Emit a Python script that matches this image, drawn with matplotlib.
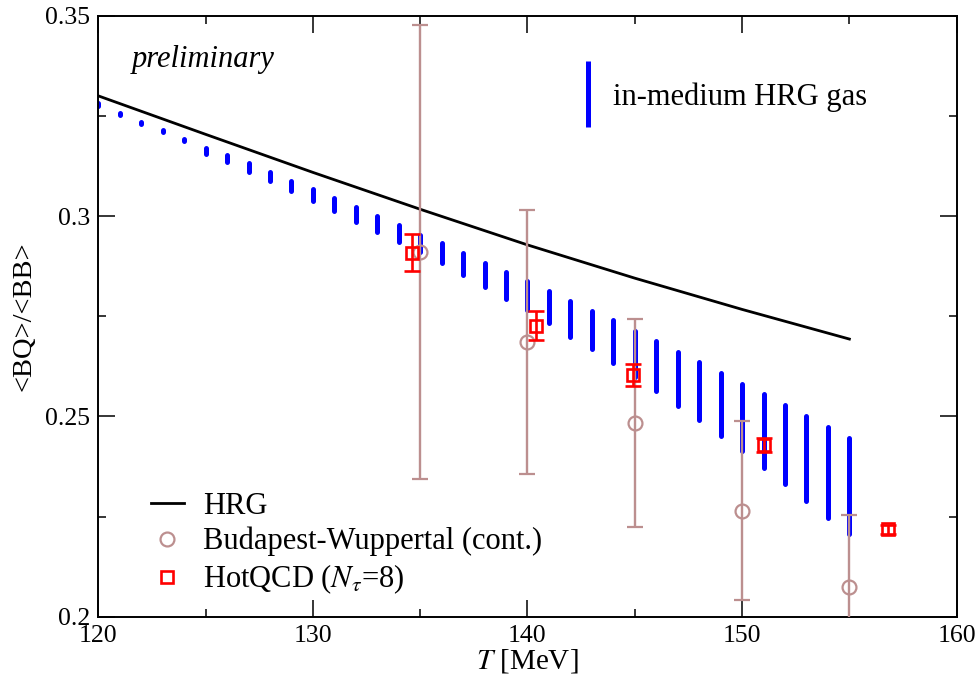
import numpy as np
import matplotlib
matplotlib.use("Agg")
import matplotlib.pyplot as plt
from matplotlib.lines import Line2D

plt.rcParams['font.family'] = ['Liberation Serif', 'DejaVu Serif']
plt.rcParams['mathtext.fontset'] = 'stix'

# in-medium HRG band: lower / upper end at each temperature
T_band = np.arange(120, 156)
band_lo = [0.3275, 0.3253, 0.3231, 0.3209, 0.3187, 0.3154, 0.3134, 0.3109, 0.3088, 0.3062,
           0.3038, 0.3013, 0.2986, 0.2961, 0.2934, 0.2911, 0.2882, 0.2853, 0.2823, 0.2793,
           0.2765, 0.2733, 0.2698, 0.2667, 0.2633, 0.2598, 0.2563, 0.2526, 0.2490, 0.2451,
           0.2413, 0.2372, 0.2332, 0.2290, 0.2247, 0.2207]
band_hi = [0.3281, 0.3258, 0.3236, 0.3214, 0.3192, 0.3170, 0.3152, 0.3132, 0.3109, 0.3088,
           0.3067, 0.3044, 0.3022, 0.3000, 0.2978, 0.2953, 0.2932, 0.2908, 0.2883, 0.2861,
           0.2838, 0.2813, 0.2788, 0.2763, 0.2740, 0.2714, 0.2688, 0.2661, 0.2636, 0.2609,
           0.2582, 0.2555, 0.2528, 0.2501, 0.2473, 0.2446]

# HRG curve
T_hrg = [120, 125, 130, 135, 140, 145, 150, 155]
hrg = [0.3300, 0.3204, 0.3109, 0.3017, 0.2928, 0.2845, 0.2767, 0.2693]

# Budapest-Wuppertal (continuum)
T_bw = [135, 140, 145, 150, 155]
bw = [0.2910, 0.2685, 0.2483, 0.2265, 0.2073]
bw_err = [0.0567, 0.0330, 0.0260, 0.0223, 0.0182]

# HotQCD Ntau=8
T_hq = [134.6, 140.4, 144.9, 151.0, 156.8]
hq = [0.2908, 0.2726, 0.2603, 0.2429, 0.2218]
hq_err = [0.0046, 0.0036, 0.0028, 0.0017, 0.0012]

fig = plt.figure(figsize=(9.76, 6.78), dpi=100)
ax = fig.add_axes([0.1007, 0.0904, 0.8795, 0.8864])

bars = ax.vlines(T_band, band_lo, band_hi, color='blue', lw=3.6, zorder=2)
bars.set_capstyle('round')

ax.plot(T_hrg, hrg, color='black', lw=2.0, zorder=3)

ax.errorbar(T_bw, bw, yerr=bw_err, fmt='o', ms=10, mfc='none', mec='#bc8f8f', mew=1.6,
            ecolor='#bc8f8f', elinewidth=1.7, capsize=5.8, capthick=1.7, zorder=4)
ax.errorbar(T_hq, hq, yerr=hq_err, fmt='s', ms=8, mfc='none', mec='red', mew=1.9,
            ecolor='red', elinewidth=1.9, capsize=6.0, capthick=1.9, zorder=5)

ax.text(121.57, 0.339, 'preliminary', fontsize=22, style='italic', ha='left', va='center')

ax.set_xlim(120, 160)
ax.set_ylim(0.2, 0.35)
ax.set_xticks([120, 130, 140, 150, 160])
ax.set_xticks(np.arange(125, 160, 10), minor=True)
ax.set_yticks([0.2, 0.25, 0.3, 0.35])
ax.set_yticklabels(['0.2', '0.25', '0.3', '0.35'])
ax.set_yticks([0.225, 0.275, 0.325], minor=True)
ax.tick_params(which='both', direction='in', top=True, right=True, labelsize=18.5, width=1.1)
ax.tick_params(which='major', length=12, pad=6)
ax.tick_params(which='minor', length=6)
for s in ax.spines.values():
    s.set_linewidth(1.4)

ax.set_xlabel(r'$T$ [MeV]', fontsize=21, labelpad=0)
ax.set_ylabel('<BQ>/<BB>', fontsize=20.5, labelpad=6)

handles = [Line2D([], [], color='black', lw=2.0),
           Line2D([], [], color='#bc8f8f', marker='o', ls='none', ms=10, mfc='none', mew=1.6),
           Line2D([], [], color='red', marker='s', ls='none', ms=8, mfc='none', mew=1.9)]
labels = ['HRG', 'Budapest-Wuppertal (cont.)', r'HotQCD ($N_\tau$=8)']
leg1 = ax.legend(handles, labels, loc='lower left', bbox_to_anchor=(0.047, 0.014),
                 frameon=False, fontsize=22, handlelength=1.08, handletextpad=0.62,
                 labelspacing=0.2, borderaxespad=0)
ax.add_artist(leg1)

band_handle = Line2D([], [], color='blue', marker='|', ls='none', ms=48, mew=3.6)
ax.legend([band_handle], ['in-medium HRG gas'], loc='upper left', bbox_to_anchor=(0.538, 0.909),
          frameon=False, fontsize=22, handlelength=1.0, handletextpad=0.33, borderaxespad=0)

fig.savefig('out.png', dpi=100)
